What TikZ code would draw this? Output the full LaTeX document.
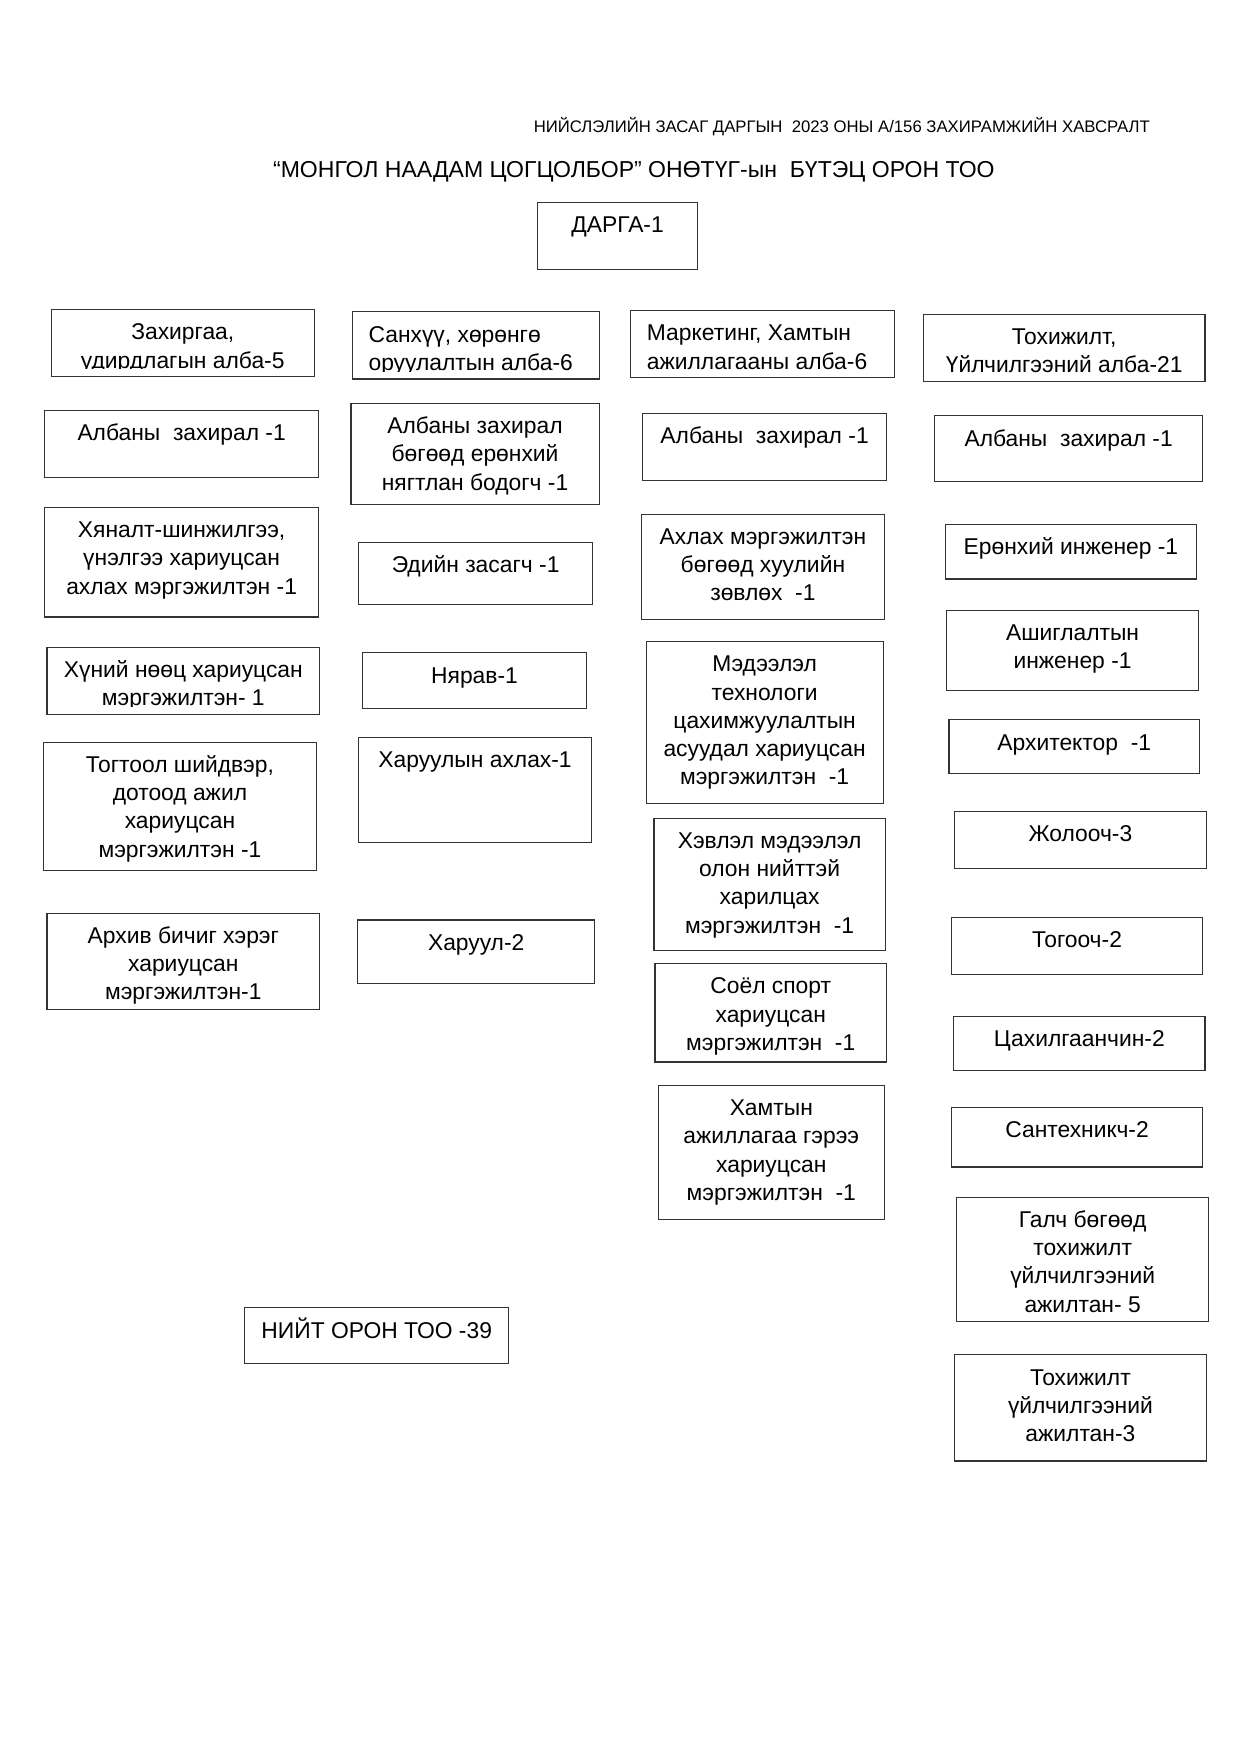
\documentclass[tikz,border=0pt]{standalone}
\usepackage{fontspec}
\setmainfont{Liberation Sans}
\usetikzlibrary{fit}
\newcommand\boxfont{\fontsize{11}{13.6}\selectfont}
\tikzset{
  box/.style={draw=black!80, line width=0.55pt, inner sep=0pt, rectangle},
  lbl/.style={anchor=north, inner sep=0pt, align=center, font=\boxfont},
  lbll/.style={anchor=north west, inner sep=0pt, align=left, font=\boxfont},
}
% centred text box
\newcommand\bx[6]{%
  \node[box, fit={(#2,#3) (#4,#5)}] (#1) {};
  \node[lbl] (#1t) at ([yshift=-5.1pt]#1.north) {\strut #6};}
% centred, clipped text box
\newcommand\bxc[6]{%
  \node[box, fit={(#2,#3) (#4,#5)}] (#1) {};
  \begin{scope}
    \clip (#2,#3) rectangle (#4,#5-7);
    \node[lbl] (#1t) at ([yshift=-5.1pt]#1.north) {\strut #6};
  \end{scope}}
% left-aligned, clipped text box
\newcommand\bxl[6]{%
  \node[box, fit={(#2,#3) (#4,#5)}] (#1) {};
  \begin{scope}
    \clip (#2,#3) rectangle (#4,#5-7);
    \node[lbll] (#1t) at ([xshift=8pt,yshift=-5.1pt]#1.north west) {\strut #6};
  \end{scope}}
\begin{document}
\begin{tikzpicture}[x=0.018919cm, y=-0.018919cm]
\useasboundingbox (0,0) rectangle (1110,1570);

\node[anchor=base east, inner sep=0pt, font=\fontsize{8.05}{9.5}\selectfont] (hdr) at (1029,118.5)
  {НИЙСЛЭЛИЙН ЗАСАГ ДАРГЫН\ \ 2023 ОНЫ А/156 ЗАХИРАМЖИЙН ХАВСРАЛТ};
\node[anchor=base, inner sep=0pt, font=\fontsize{11.1}{13}\selectfont] (title) at (567,159)
  {“МОНГОЛ НААДАМ ЦОГЦОЛБОР” ОНӨТҮГ-ын\ \ БҮТЭЦ ОРОН ТОО};

\bx{dg}{481}{181}{624}{241}{ДАРГА-1}

% column 1
\bxc{ca}{46}{277}{281}{337}{Захиргаа,\\удирдлагын алба-5}
\bx{cb}{40}{367}{285}{427}{Албаны\ \ захирал -1}
\bx{cc}{40}{454}{285}{552}{Хяналт-шинжилгээ,\\үнэлгээ хариуцсан\\ахлах мэргэжилтэн -1}
\bxc{cd}{42}{579}{286}{639}{Хүний нөөц хариуцсан\\мэргэжилтэн- 1}
\bx{ce}{39}{664}{283}{779}{Тогтоол шийдвэр,\\дотоод ажил\\хариуцсан\\мэргэжилтэн -1}
\bx{cf}{42}{817}{286}{903}{Архив бичиг хэрэг\\хариуцсан\\мэргэжилтэн-1}

% column 2
\bxl{fa}{315}{279}{536}{339}{Санхүү, хөрөнгө\\оруулалтын алба-6}
\bx{fb}{314}{361}{536}{451}{Албаны захирал\\бөгөөд ерөнхий\\нягтлан бодогч -1}
\bx{fc}{321}{485}{530}{541}{Эдийн засагч -1}
\bx{fd}{324}{584}{525}{634}{Нярав-1}
\bx{fe}{321}{660}{529}{754}{Харуулын ахлах-1}
\bx{ff}{320}{823}{532}{880}{Харуул-2}

% column 3
\bxl{ma}{564}{278}{800}{338}{Маркетинг, Хамтын\\ажиллагааны алба-6}
\bx{mb}{575}{370}{793}{430}{Албаны\ \ захирал -1}
\bx{mc}{574}{460}{791}{554}{Ахлах мэргэжилтэн\\бөгөөд хуулийн\\зөвлөх\ \ -1}
\bx{md}{578}{574}{790}{719}{Мэдээлэл\\технологи\\цахимжуулалтын\\асуудал хариуцсан\\мэргэжилтэн\ \ -1}
\bx{me}{585}{732}{792}{850}{Хэвлэл мэдээлэл\\олон нийттэй\\харилцах\\мэргэжилтэн\ \ -1}
\bx{mf}{586}{862}{793}{950}{Соёл спорт\\хариуцсан\\мэргэжилтэн\ \ -1}
\bx{mg}{589}{971}{791}{1091}{Хамтын\\ажиллагаа гэрээ\\хариуцсан\\мэргэжилтэн\ \ -1}

% column 4
\bx{ta}{826}{281}{1078}{341}{Тохижилт,\\Үйлчилгээний алба-21}
\bx{tb}{836}{372}{1076}{431}{Албаны\ \ захирал -1}
\bx{tc}{846}{469}{1070}{518}{Ерөнхий инженер -1}
\bx{td}{847}{546}{1072}{618}{Ашиглалтын\\инженер -1}
\bx{te}{849}{644}{1073}{692}{Архитектор\ \ -1}
\bx{tf}{854}{726}{1079}{777}{Жолооч-3}
\bx{tg}{851}{821}{1076}{872}{Тогооч-2}
\bx{th}{853}{909}{1078}{958}{Цахилгаанчин-2}
\bx{ti}{851}{991}{1076}{1044}{Сантехникч-2}
\bx{tj}{856}{1071}{1081}{1182}{Галч бөгөөд\\тохижилт\\үйлчилгээний\\ажилтан- 5}
\bx{tk}{854}{1212}{1079}{1307}{Тохижилт\\үйлчилгээний\\ажилтан-3}

\bx{tot}{219}{1170}{455}{1220}{НИЙТ ОРОН ТОО -39}
\end{tikzpicture}
\end{document}
